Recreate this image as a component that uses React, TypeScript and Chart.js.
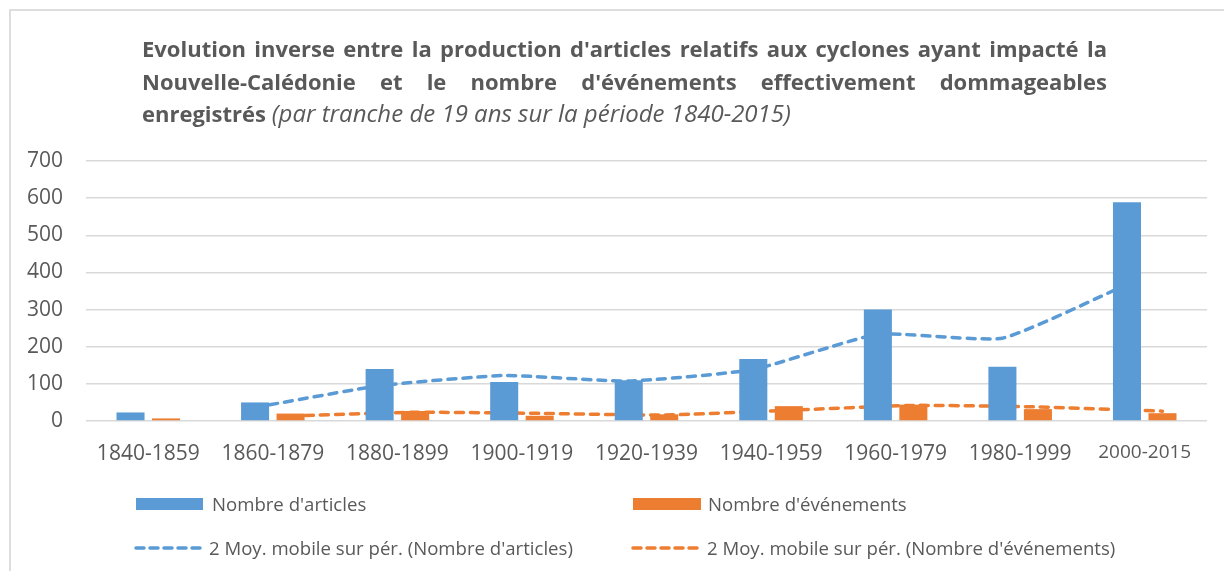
import React, { useEffect, useRef } from 'react';
import { Chart, registerables } from 'chart.js';

Chart.register(...registerables);

const categories = ['1840-1859', '1860-1879', '1880-1899', '1900-1919', '1920-1939', '1940-1959', '1960-1979', '1980-1999', '2000-2015'];
const articles = [23, 50, 140, 105, 110, 167, 300, 146, 589];
const evenements = [7, 20, 27, 14, 18, 40, 44, 32, 21];
const articlesAvg = [null, 36.5, 95, 122.5, 107.5, 138.5, 233.5, 223, 367.5];
const evenementsAvg = [null, 13.5, 23.5, 20.5, 16, 29, 42, 38, 26.5];
const yTicks = [0, 100, 200, 300, 400, 500, 600, 700];

const titleLine1 = "Evolution inverse entre la production d'articles relatifs aux cyclones ayant impacté la";
const titleLine2 = "Nouvelle-Calédonie et le nombre d'événements effectivement dommageables";
const titleLine3Bold = 'enregistrés';
const titleLine3Italic = '(par tranche de 19 ans sur la période 1840-2015)';

const legendArticles = "Nombre d'articles";
const legendEvenements = "Nombre d'événements";
const legendArticlesAvg = "2 Moy. mobile sur pér. (Nombre d'articles)";
const legendEvenementsAvg = "2 Moy. mobile sur pér. (Nombre d'événements)";

const BLUE = '#5B9BD5';
const ORANGE = '#ED7D31';
const TEXT = '#595959';
const GRID = '#D9D9D9';
const FONT = "'Open Sans', 'DejaVu Sans', sans-serif";

const CAT_PCT = 0.57;
const BAR_PCT = 0.79;
const SERIES_OFFSET = CAT_PCT / 4;

function toPoints(values: (number | null)[], offset: number) {
  const pts: { x: number; y: number }[] = [];
  values.forEach((v, i) => {
    if (v !== null) pts.push({ x: i + offset, y: v });
  });
  return pts;
}

const justified: React.CSSProperties = {
  display: 'flex',
  justifyContent: 'space-between',
  whiteSpace: 'nowrap',
  height: 32.5,
  lineHeight: '32.5px',
};

function DashSample({ color }: { color: string }) {
  return (
    <svg width={72} height={10} style={{ position: 'absolute', left: 0, top: 1 }}>
      <line x1={3} y1={5} x2={69} y2={5} stroke={color} strokeWidth={3.5} strokeLinecap="round" strokeDasharray="8 6" />
    </svg>
  );
}

export default function App() {
  const canvasRef = useRef<HTMLCanvasElement | null>(null);

  useEffect(() => {
    if (!canvasRef.current) return;
    const chart = new Chart(canvasRef.current, {
      type: 'bar',
      data: {
        datasets: [
          {
            type: 'bar',
            label: legendArticles,
            data: articles.map((v, i) => ({ x: i, y: v })) as any,
            backgroundColor: BLUE,
            categoryPercentage: CAT_PCT,
            barPercentage: BAR_PCT,
            order: 0,
          },
          {
            type: 'bar',
            label: legendEvenements,
            data: evenements.map((v, i) => ({ x: i, y: v })) as any,
            backgroundColor: ORANGE,
            categoryPercentage: CAT_PCT,
            barPercentage: BAR_PCT,
            order: 0,
          },
          {
            type: 'line',
            label: legendArticlesAvg,
            data: toPoints(articlesAvg, -SERIES_OFFSET) as any,
            borderColor: BLUE,
            borderWidth: 3.5,
            borderDash: [8, 7],
            borderCapStyle: 'round',
            pointRadius: 0,
            tension: 0.15,
            fill: false,
            order: 1,
          },
          {
            type: 'line',
            label: legendEvenementsAvg,
            data: toPoints(evenementsAvg, SERIES_OFFSET) as any,
            borderColor: ORANGE,
            borderWidth: 3.5,
            borderDash: [8, 7],
            borderCapStyle: 'round',
            pointRadius: 0,
            tension: 0.15,
            fill: false,
            order: 1,
          },
        ],
      },
      options: {
        responsive: false,
        animation: false,
        layout: { padding: { left: 10, right: 17, top: 161, bottom: 90 } },
        plugins: {
          legend: { display: false },
          title: { display: false },
          tooltip: { enabled: false },
        },
        scales: {
          x: {
            type: 'linear',
            min: -0.5,
            max: 8.5,
            offset: false,
            afterBuildTicks: (axis: any) => {
              axis.ticks = categories.map((_, i) => ({ value: i }));
            },
            grid: { display: false, drawTicks: false },
            border: { display: false },
            ticks: {
              color: TEXT,
              padding: 20,
              maxRotation: 0,
              autoSkip: false,
              callback: (v: any) => categories[Math.round(Number(v))] ?? '',
              font: (ctx: any) => ({ family: FONT, size: ctx.index === 8 ? 19 : 21 }),
            },
            afterFit: (axis: any) => {
              axis.height = 60;
            },
          },
          y: {
            min: 0,
            max: 700,
            afterBuildTicks: (axis: any) => {
              axis.ticks = yTicks.map((v) => ({ value: v }));
            },
            grid: { color: GRID, lineWidth: 1.5, drawTicks: false },
            border: { display: false },
            ticks: {
              color: TEXT,
              padding: 23,
              font: { family: FONT, size: 21 },
            },
            afterFit: (axis: any) => {
              axis.width = 76;
            },
          },
        },
      },
    });
    return () => chart.destroy();
  }, []);

  const legendText: React.CSSProperties = {
    position: 'absolute',
    fontFamily: FONT,
    fontSize: 18.6,
    color: TEXT,
    whiteSpace: 'nowrap',
    lineHeight: '24px',
  };

  return (
    <div style={{ position: 'absolute', left: 0, top: 0, width: 1224, height: 571, background: '#fff', overflow: 'hidden' }}>
      <div style={{ position: 'absolute', left: 9, top: 9, width: 1400, height: 800, borderLeft: '2px solid #DDDDDD', borderTop: '2px solid #DDDDDD' }} />
      <canvas ref={canvasRef} width={1224} height={571} style={{ position: 'absolute', left: 0, top: 0 }} />
      <div style={{ position: 'absolute', left: 142, top: 32, width: 965, fontFamily: FONT, fontSize: 22, color: TEXT }}>
        <div style={{ ...justified, fontWeight: 700 }}>
          {titleLine1.split(' ').map((w, i) => (
            <span key={i}>{w}</span>
          ))}
        </div>
        <div style={{ ...justified, fontWeight: 700 }}>
          {titleLine2.split(' ').map((w, i) => (
            <span key={i}>{w}</span>
          ))}
        </div>
        <div style={{ height: 32.5, lineHeight: '32.5px', whiteSpace: 'nowrap' }}>
          <span style={{ fontWeight: 700 }}>{titleLine3Bold}</span>{' '}
          <span style={{ fontStyle: 'italic', fontSize: 24 }}>{titleLine3Italic}</span>
        </div>
      </div>
      <div style={{ position: 'absolute', left: 136, top: 498, width: 67, height: 12, background: BLUE }} />
      <div style={{ ...legendText, left: 212, top: 492 }}>{legendArticles}</div>
      <div style={{ position: 'absolute', left: 633, top: 498, width: 68, height: 12, background: ORANGE }} />
      <div style={{ ...legendText, left: 708, top: 492 }}>{legendEvenements}</div>
      <div style={{ position: 'absolute', left: 133, top: 542, width: 72, height: 12 }}>
        <DashSample color={BLUE} />
      </div>
      <div style={{ ...legendText, left: 209, top: 536 }}>{legendArticlesAvg}</div>
      <div style={{ position: 'absolute', left: 630, top: 542, width: 72, height: 12 }}>
        <DashSample color={ORANGE} />
      </div>
      <div style={{ ...legendText, left: 707, top: 536 }}>{legendEvenementsAvg}</div>
    </div>
  );
}
